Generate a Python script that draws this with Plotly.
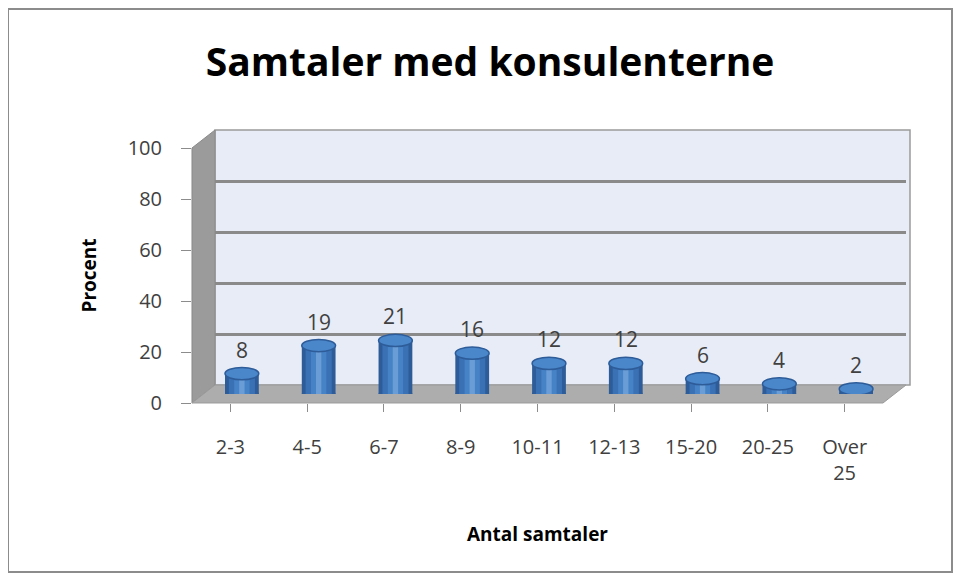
import plotly.graph_objects as go

categories = ['2-3', '4-5', '6-7', '8-9', '10-11', '12-13', '15-20', '20-25', 'Over<br>25']
values = [8, 19, 21, 16, 12, 12, 6, 4, 2]
y_ticks = [0, 20, 40, 60, 80, 100]

W, H = 962, 580
OFF = 8  # the page puts the figure 8px in from the top left

def px_x(x):
    return (x - OFF) / W

def px_y(y):
    return 1 - (y - OFF) / H

# front edge of the 3D box, and the depth offset to the back wall
fx0, fx1 = 192, 883
fy0, fy1 = 403, 148
dx, dy = 23, -18

font = "Open Sans"
idx = list(range(len(categories)))

fig = go.Figure()

# invisible traces so the front axis and the back wall subplots get drawn
fig.add_trace(go.Scatter(x=idx, y=values, mode='markers', marker_opacity=0, xaxis='x', yaxis='y',
                         showlegend=False, hoverinfo='skip'))
fig.add_trace(go.Scatter(x=idx, y=values, mode='markers', marker_opacity=0, xaxis='x2', yaxis='y2',
                         showlegend=False, hoverinfo='skip'))

# cylinders: layered bars for a bit of shading
for w, col in [(0.44, '#2D5C99'), (0.34, '#3A70B4'), (0.2, '#4682C6'), (0.07, '#6A9DD6')]:
    fig.add_trace(go.Bar(x=idx, y=values, width=w, marker_color=col, marker_line_width=0,
                         xaxis='x3', yaxis='y3', showlegend=False, hoverinfo='skip'))

annotations = []
for i, v in zip(idx, values):
    annotations.append(dict(x=i, y=v, xref='x3', yref='y3', text=str(v), showarrow=False,
                            yshift=24, font=dict(size=21, color='#404040', family=font)))

shapes = []
# outer border
shapes.append(dict(type='rect', xref='paper', yref='paper', x0=px_x(8), x1=px_x(952), y0=px_y(572), y1=px_y(9),
                   line=dict(color='#8C8C8C', width=2), fillcolor='white', layer='below'))
# back wall
shapes.append(dict(type='rect', xref='paper', yref='paper', x0=px_x(fx0 + dx), x1=px_x(fx1 + dx + 4),
                   y0=px_y(fy0 + dy), y1=px_y(fy1 + dy), line=dict(color='#9A9A9A', width=1.5),
                   fillcolor='#E8ECF6', layer='below'))
# side wall
shapes.append(dict(type='path', xref='paper', yref='paper',
                   path='M %f,%f L %f,%f L %f,%f L %f,%f Z' % (
                       px_x(fx0), px_y(fy0), px_x(fx0 + dx), px_y(fy0 + dy),
                       px_x(fx0 + dx), px_y(fy1 + dy), px_x(fx0), px_y(fy1)),
                   fillcolor='#9B9B9B', line=dict(color='#8A8A8A', width=1), layer='below'))
# floor
shapes.append(dict(type='path', xref='paper', yref='paper',
                   path='M %f,%f L %f,%f L %f,%f L %f,%f Z' % (
                       px_x(fx0), px_y(fy0), px_x(fx1), px_y(fy0),
                       px_x(fx1 + dx), px_y(fy0 + dy), px_x(fx0 + dx), px_y(fy0 + dy)),
                   fillcolor='#ADADAD', line=dict(color='#9A9A9A', width=1), layer='below'))

# cylinder bottoms and tops
for i, v in zip(idx, values):
    shapes.append(dict(type='circle', xref='x3', yref='y3', x0=i - 0.22, x1=i + 0.22, y0=-2.4, y1=2.4,
                       fillcolor='#2D5C99', line=dict(width=0), layer='below'))
    shapes.append(dict(type='circle', xref='x3', yref='y3', x0=i - 0.22, x1=i + 0.22, y0=v - 2.4, y1=v + 2.4,
                       fillcolor='#4A86CA', line=dict(color='#2D5C99', width=1.5), layer='above'))

fig.update_layout(
    width=W, height=H,
    margin=dict(l=0, r=0, t=0, b=0, autoexpand=False),
    paper_bgcolor='white',
    plot_bgcolor='rgba(0,0,0,0)',
    barmode='overlay',
    shapes=shapes,
    annotations=annotations,
    title=dict(text='<b>Samtaler med konsulenterne</b>', x=px_x(490), xanchor='center', y=px_y(62),
               yanchor='middle', font=dict(family=font, size=39, color='black')),
    # front axis: ticks and labels
    xaxis=dict(domain=[px_x(fx0), px_x(fx1)], range=[-0.5, 8.5], tickmode='array', tickvals=idx,
               ticktext=categories, tickson='boundaries', ticks='outside', ticklen=8, tickcolor='#8C8C8C',
               showline=False, showgrid=False, zeroline=False, ticklabelstandoff=18, anchor='y',
               automargin=False, tickfont=dict(family=font, size=20, color='#404040'),
               title=dict(text='<b>Antal samtaler</b>', font=dict(family=font, size=19, color='black'), standoff=42)),
    yaxis=dict(domain=[px_y(fy0), px_y(fy1)], range=[0, 100], tickvals=y_ticks, ticks='outside', ticklen=10,
               tickcolor='#8C8C8C', showline=False, showgrid=False, zeroline=False, ticklabelstandoff=15, anchor='x',
               automargin=False, tickfont=dict(family=font, size=20, color='#404040'),
               title=dict(text='<b>Procent</b>', font=dict(family=font, size=19, color='black'), standoff=26)),
    # back wall: gridlines
    xaxis2=dict(domain=[px_x(fx0 + dx), px_x(fx1 + dx)], range=[-0.5, 8.5], visible=False, anchor='y2',
                automargin=False),
    yaxis2=dict(domain=[px_y(fy0 + dy), px_y(fy1 + dy)], range=[0, 100], tickvals=y_ticks, showticklabels=False,
                showgrid=True, gridcolor='#8A8A8A', gridwidth=2.5, zeroline=False, showline=False, anchor='x2',
                automargin=False),
    # middle depth: the cylinders
    xaxis3=dict(domain=[px_x(fx0 + dx / 2), px_x(fx1 + dx / 2)], range=[-0.5, 8.5], visible=False, anchor='y3',
                automargin=False),
    yaxis3=dict(domain=[px_y(fy0 + dy / 2), px_y(fy1 + dy / 2)], range=[0, 100], visible=False, anchor='x3',
                automargin=False),
)

fig.write_html("out.html")
